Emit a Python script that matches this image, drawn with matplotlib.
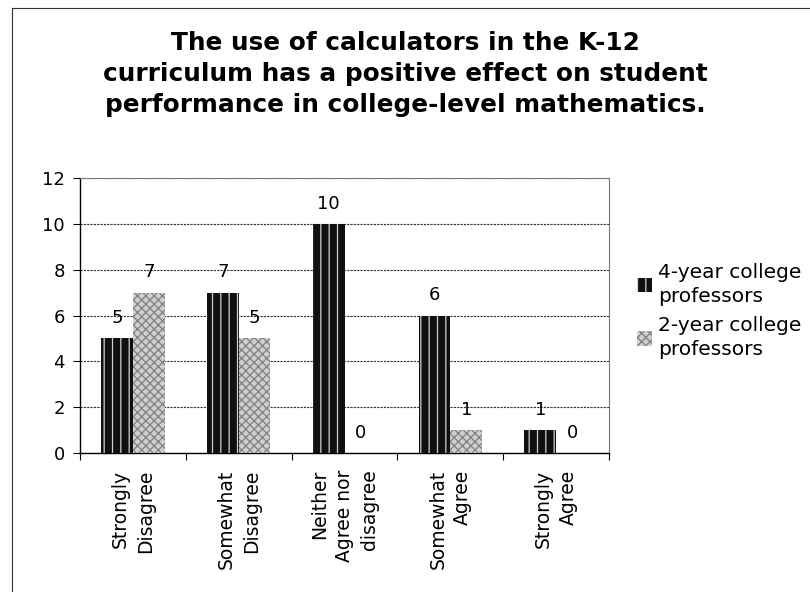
import matplotlib.pyplot as plt
import numpy as np
from matplotlib.lines import Line2D

categories = ['Strongly\nDisagree', 'Somewhat\nDisagree', 'Neither\nAgree nor\ndisagree',
              'Somewhat\nAgree', 'Strongly\nAgree']
four_year = [5, 7, 10, 6, 1]
two_year = [7, 5, 0, 1, 0]
series_names = ['4-year college\nprofessors', '2-year college\nprofessors']
title = ('The use of calculators in the K-12\n'
         'curriculum has a positive effect on student\n'
         'performance in college-level mathematics.')

plt.rcParams['font.family'] = ['DejaVu Sans']
plt.rcParams['hatch.linewidth'] = 0.9

fig = plt.figure(figsize=(8.1, 5.92), dpi=100)
ax = fig.add_axes([0.0988, 0.2348, 0.6531, 0.4645])

x = np.arange(len(categories))
w = 0.3
b1 = ax.bar(x - w / 2, four_year, w, facecolor='#111111', edgecolor='#d0d0d0',
            hatch='||', linewidth=0, label=series_names[0], zorder=3)
b2 = ax.bar(x + w / 2, two_year, w, facecolor='#cfcfcf', edgecolor='#808080',
            hatch='xxxx', linewidth=0, label=series_names[1], zorder=3)
ax.bar_label(b1, padding=8, fontsize=13)
ax.bar_label(b2, padding=8, fontsize=13)

ax.set_xlim(-0.5, len(categories) - 0.5)
ax.set_ylim(0, 12)
ax.set_yticks(range(0, 13, 2))
ax.yaxis.grid(True, color='#333333', linestyle=(0, (2, 1)), linewidth=0.8, zorder=0)

ax.set_xticks(np.arange(len(categories) + 1) - 0.5)
ax.set_xticklabels([])
ax.set_xticks(x, minor=True)
ax.set_xticklabels(categories, minor=True, rotation=90, fontsize=13.5, linespacing=1.4,
                   multialignment='right')
ax.tick_params(axis='x', which='minor', length=0, pad=12)
ax.tick_params(axis='x', which='major', length=5, direction='out', width=0.8)
ax.tick_params(axis='y', labelsize=13, length=5, width=0.8, pad=6)

for s in ['left', 'bottom']:
    ax.spines[s].set_color('black')
    ax.spines[s].set_linewidth(1.0)
for s in ['top', 'right']:
    ax.spines[s].set_color('#777777')
    ax.spines[s].set_linewidth(0.8)

fig.text(0.5, 0.875, title, ha='center', va='center', fontsize=17.8,
         fontweight='bold', linespacing=1.36)

leg = fig.legend(loc='upper left', bbox_to_anchor=(0.786, 0.556), frameon=False,
                 fontsize=14.5, handlelength=0.75, handleheight=0.75, handletextpad=0.3,
                 labelspacing=0.5, borderpad=0, borderaxespad=0)
for t in leg.get_texts():
    t.set_linespacing(1.35)

fig.add_artist(Line2D([0.015, 1.0], [0.986, 0.986], color='#333333', linewidth=0.8))
fig.add_artist(Line2D([0.015, 0.015], [0.0, 0.986], color='#333333', linewidth=0.8))

fig.savefig('out.png', dpi=100)
